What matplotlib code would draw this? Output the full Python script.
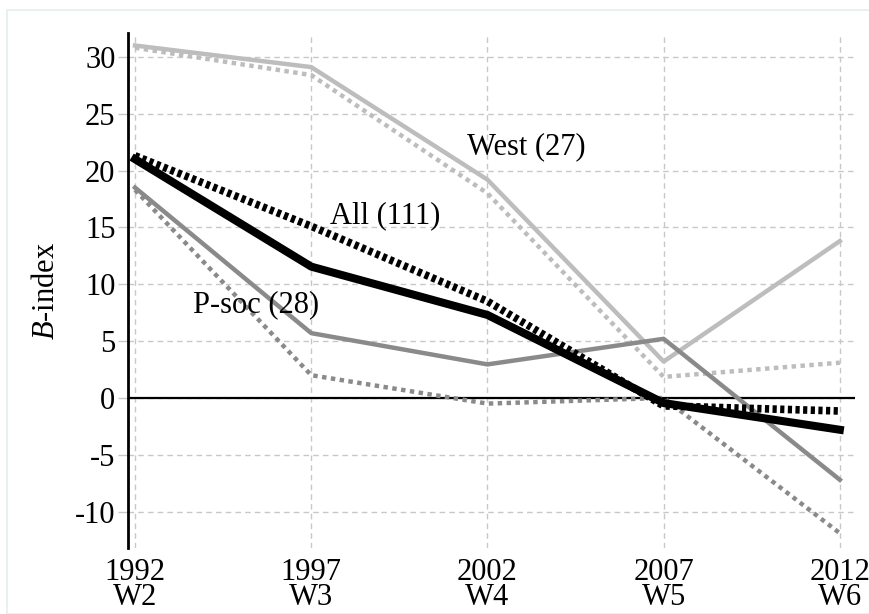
import matplotlib
matplotlib.use("Agg")
import matplotlib.pyplot as plt
from matplotlib.patches import Rectangle

years = [1992, 1997, 2002, 2007, 2012]
waves = ["W2", "W3", "W4", "W5", "W6"]
yticks = [30, 25, 20, 15, 10, 5, 0, -5, -10]

west_solid = [31.0, 29.1, 19.2, 3.2, 13.8]
west_dotted = [30.8, 28.4, 18.0, 1.85, 3.1]
all_solid = [21.0, 11.55, 7.3, -0.45, -2.8]
all_dotted = [21.3, 15.1, 8.5, -0.7, -1.15]
psoc_solid = [18.5, 5.7, 2.95, 5.2, -7.2]
psoc_dotted = [18.3, 2.0, -0.5, 0.0, -11.9]

labels = [("West (27)", 2001.43, 22.1), ("All (111)", 1997.54, 16.0), ("P-soc (28)", 1993.65, 8.2)]

plt.rcParams['font.family'] = ['Liberation Serif', 'DejaVu Serif']
plt.rcParams['mathtext.fontset'] = 'custom'
plt.rcParams['mathtext.it'] = 'Liberation Serif:italic'
plt.rcParams['mathtext.rm'] = 'Liberation Serif'

fig = plt.figure(figsize=(8.7, 6.14), dpi=100)
fig.patches.append(Rectangle((7/870, 0), 1, 1 - 10/614, transform=fig.transFigure,
                             fill=False, edgecolor='#e4eeee', lw=1.2))
ax = fig.add_axes([128/870, 1 - 548/614, (855 - 128)/870, (548 - 33)/614])

light = '#bdbdbd'
mid = '#8a8a8a'

ax.plot(years, west_dotted, color=light, lw=3.2, dashes=(1, 1))
ax.plot(years, west_solid, color=light, lw=3.2)
ax.plot(years, psoc_dotted, color=mid, lw=3.2, dashes=(1, 1))
ax.plot(years, psoc_solid, color=mid, lw=3.2)
ax.plot(years, all_dotted, color='black', lw=5.5, dashes=(0.55, 0.45))
ax.plot(years, all_solid, color='black', lw=5.8)

ax.axhline(0, color='black', lw=1.6, zorder=1)

for txt, x, y in labels:
    ax.text(x, y, txt, fontsize=22, va='center', ha='left')

ax.set_xlim(1991.8, 2012.43)
ax.set_ylim(-13.2, 32.1)
ax.set_yticks(yticks)
ax.set_yticklabels([str(v) for v in yticks])
ax.set_xticks(years)
ax.set_xticklabels([f"{y}\n{w}" for y, w in zip(years, waves)], linespacing=0.82)
ax.grid(True, color='#c8c8c8', ls=(0, (4, 3)), lw=1.0)
ax.set_axisbelow(True)

for s in ['top', 'right', 'bottom']:
    ax.spines[s].set_visible(False)
ax.spines['left'].set_linewidth(2)
ax.tick_params(axis='y', labelsize=22, length=7, color='#c8c8c8', width=1, pad=2)
ax.tick_params(axis='x', labelsize=22, length=0, pad=7)

ax.set_ylabel(r"$\mathit{B}$-index", fontsize=22, labelpad=10)

fig.savefig("out.png", dpi=100)
